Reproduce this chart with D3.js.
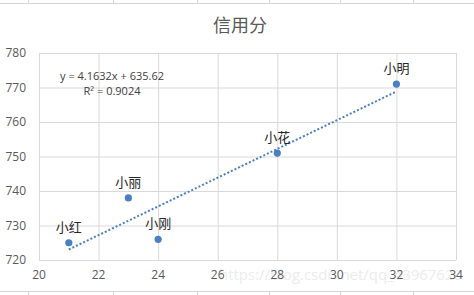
<!DOCTYPE html>
<html>
<head>
<meta charset="utf-8">
<script src="https://cdn.jsdelivr.net/npm/d3@7"></script>
<style>
  body { margin: 0; background: #fff; }
  text { font-family: "Open Sans", "Noto Sans CJK SC", sans-serif; }
</style>
</head>
<body>
<div id="CHART"></div>
<script>
// data
var names = ["小红", "小丽", "小刚", "小花", "小明"];
var ages = [21, 23, 24, 28, 32];
var scores = [725, 738, 726, 751, 771];
var xTicks = [20, 22, 24, 26, 28, 30, 32, 34];
var yTicks = [720, 730, 740, 750, 760, 770, 780];
var cellCols = [28, 113, 197, 269, 340, 413];

var WIDTH = 474, HEIGHT = 295;
var MARGIN = {LEFT: 39, RIGHT: 18, TOP: 53, BOTTOM: 35};

var svg = d3.select("#CHART")
    .append("svg")
    .attr("width", WIDTH)
    .attr("height", HEIGHT);

// spreadsheet cell borders behind the chart
var cells = svg.append("g").attr("stroke", "#d4d4d4").attr("stroke-width", 1);
cells.append("line").attr("x1", 0).attr("x2", WIDTH).attr("y1", 3.5).attr("y2", 3.5);
cells.append("line").attr("x1", 0).attr("x2", WIDTH).attr("y1", 291.5).attr("y2", 291.5);
cells.selectAll("v1").data(cellCols).enter().append("line")
    .attr("x1", function(d) { return d + 0.5; }).attr("x2", function(d) { return d + 0.5; })
    .attr("y1", 0).attr("y2", 3.5);
cells.selectAll("v2").data(cellCols).enter().append("line")
    .attr("x1", function(d) { return d + 0.5; }).attr("x2", function(d) { return d + 0.5; })
    .attr("y1", 291.5).attr("y2", HEIGHT);

var x = d3.scaleLinear().domain([20, 34]).range([MARGIN.LEFT, WIDTH - MARGIN.RIGHT]);
var y = d3.scaleLinear().domain([720, 780]).range([HEIGHT - MARGIN.BOTTOM, MARGIN.TOP]);

// grid lines
svg.append("g")
    .attr("transform", "translate(0," + (HEIGHT - MARGIN.BOTTOM) + ")")
    .call(d3.axisBottom(x).tickValues(xTicks).tickSize(-(HEIGHT - MARGIN.BOTTOM - MARGIN.TOP)).tickFormat(""))
    .call(function(g) { g.select(".domain").remove(); })
    .selectAll("line").attr("stroke", "#d9d9d9");
svg.append("g")
    .attr("transform", "translate(" + MARGIN.LEFT + ",0)")
    .call(d3.axisLeft(y).tickValues(yTicks).tickSize(-(WIDTH - MARGIN.LEFT - MARGIN.RIGHT)).tickFormat(""))
    .call(function(g) { g.select(".domain").remove(); })
    .selectAll("line").attr("stroke", "#d9d9d9");

// watermark (drawn under the tick labels)
svg.append("text")
    .attr("x", 219).attr("y", 280)
    .attr("fill", "#ececec")
    .attr("textLength", 243)
    .attr("lengthAdjust", "spacingAndGlyphs")
    .style("font-size", "14px")
    .text("https://blog.csdn.net/qq_43967620");

// tick labels
svg.selectAll("xLabels").data(xTicks).enter().append("text")
    .attr("x", function(d) { return x(d); })
    .attr("y", HEIGHT - MARGIN.BOTTOM + 19)
    .attr("text-anchor", "middle")
    .attr("fill", "#595959")
    .style("font-size", "12px")
    .text(function(d) { return d; });
svg.selectAll("yLabels").data(yTicks).enter().append("text")
    .attr("x", 26)
    .attr("y", function(d) { return y(d) + 4; })
    .attr("text-anchor", "end")
    .attr("fill", "#595959")
    .style("font-size", "12px")
    .text(function(d) { return d; });

// title
svg.append("text")
    .attr("x", 240).attr("y", 32)
    .attr("text-anchor", "middle")
    .attr("fill", "#595959")
    .style("font-size", "18px")
    .text("信用分");

// linear trend line (least squares)
var n = ages.length;
var mx = d3.mean(ages), my = d3.mean(scores);
var sxy = 0, sxx = 0, syy = 0;
for (var i = 0; i < n; i++) {
    sxy += (ages[i] - mx) * (scores[i] - my);
    sxx += (ages[i] - mx) * (ages[i] - mx);
    syy += (scores[i] - my) * (scores[i] - my);
}
var slope = sxy / sxx;
var intercept = my - slope * mx;
var r2 = (sxy * sxy) / (sxx * syy);

var xMin = d3.min(ages), xMax = d3.max(ages);
svg.append("line")
    .attr("x1", x(xMin)).attr("y1", y(intercept + slope * xMin))
    .attr("x2", x(xMax)).attr("y2", y(intercept + slope * xMax))
    .attr("stroke", "#4a7fc1")
    .attr("stroke-width", 2)
    .attr("stroke-dasharray", "2,2");

svg.append("text")
    .attr("x", 112).attr("y", 80)
    .attr("text-anchor", "middle")
    .attr("fill", "#404040")
    .style("font-size", "11px")
    .text("y = " + slope.toFixed(4) + "x + " + intercept.toFixed(2));
svg.append("text")
    .attr("x", 112).attr("y", 95)
    .attr("text-anchor", "middle")
    .attr("fill", "#404040")
    .style("font-size", "11px")
    .text("R² = " + r2.toFixed(4));

// points
svg.selectAll("dots").data(ages).enter().append("circle")
    .attr("cx", function(d) { return x(d); })
    .attr("cy", function(d, i) { return y(scores[i]); })
    .attr("r", 3.6)
    .attr("fill", "#4a7fc1");

// data labels
svg.selectAll("names").data(ages).enter().append("text")
    .attr("x", function(d) { return x(d); })
    .attr("y", function(d, i) { return y(scores[i]) - 11; })
    .attr("text-anchor", "middle")
    .attr("fill", "#262626")
    .style("font-size", "13px")
    .text(function(d, i) { return names[i]; });
</script>
</body>
</html>
